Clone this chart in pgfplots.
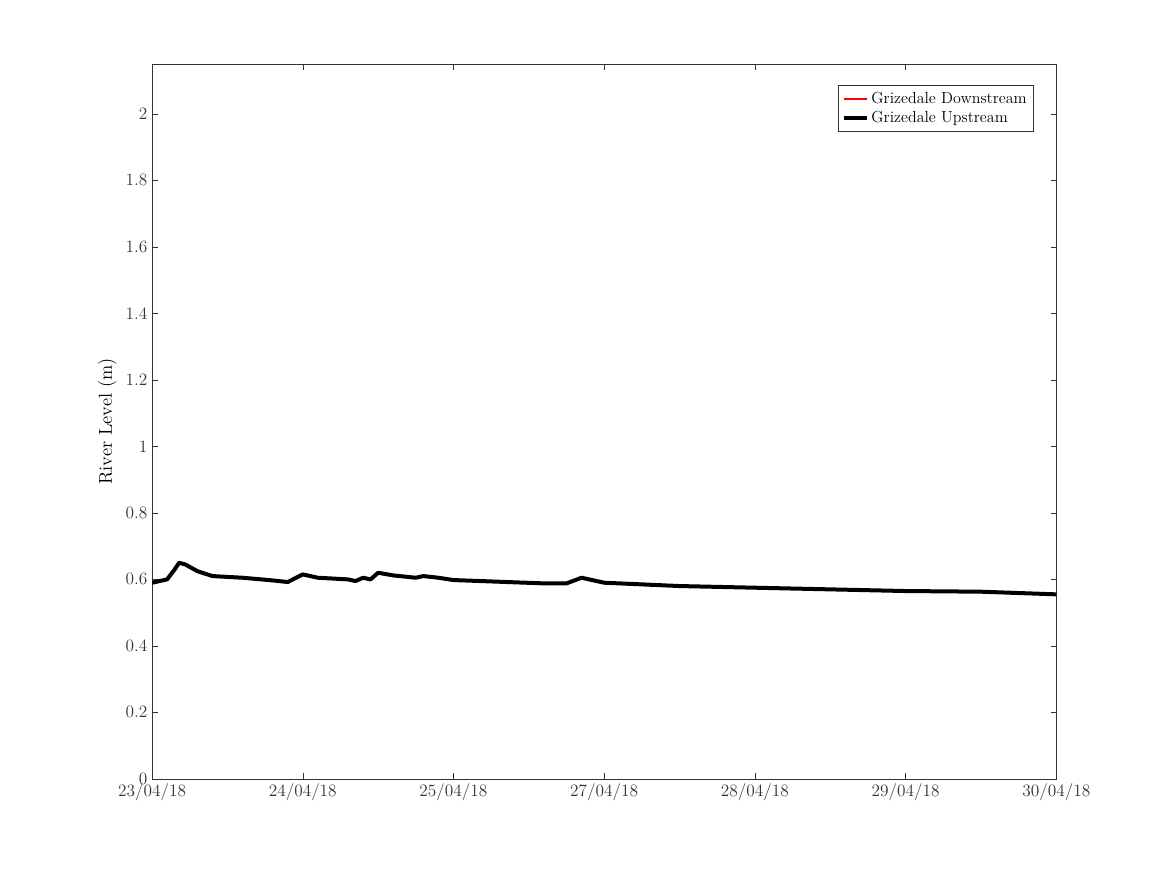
\documentclass[border=0pt]{standalone}
\usepackage{pgfplots}
\pgfplotsset{compat=1.18}
\begin{document}
\begin{tikzpicture}
\begin{axis}[scale only axis, width=678pt, height=536pt,
xmin=0, xmax=6, ymin=0, ymax=2.15,
xtick={0,1,2,3,4,5,6},
xticklabels={23/04/18,24/04/18,25/04/18,27/04/18,28/04/18,29/04/18,30/04/18},
ytick={0,0.2,0.4,0.6,0.8,1,1.2,1.4,1.6,1.8,2},
yticklabels={0,0.2,0.4,0.6,0.8,1,1.2,1.4,1.6,1.8,2},
tick style={color=black!80}, tick align=inside,
ticklabel style={font=\fontsize{13}{15}\selectfont, text=black!80},
ylabel={\fontsize{14}{16}\selectfont River Level (m)},
axis line style={black!80},
legend style={at={(rel axis cs:0.975,0.97)}, anchor=north east, font=\fontsize{12}{14}\selectfont, draw=black!80, cells={anchor=west}, inner sep=3pt},
legend cell align=left]
\addlegendimage{red, line width=2.2pt}
\addlegendentry{Grizedale Downstream}
\addplot[black, line width=3pt, line join=round] coordinates {
(0,0.59)(0.05,0.595)(0.1,0.60)(0.15,0.63)(0.18,0.65)(0.22,0.645)(0.3,0.625)(0.4,0.61)(0.6,0.605)(0.8,0.597)(0.9,0.592)(1.0,0.615)(1.1,0.605)(1.3,0.60)(1.35,0.595)(1.4,0.605)(1.45,0.60)(1.5,0.62)(1.6,0.612)(1.75,0.605)(1.8,0.61)(1.9,0.605)(2.0,0.598)(2.3,0.593)(2.6,0.588)(2.75,0.588)(2.85,0.605)(2.95,0.595)(3.0,0.59)(3.5,0.58)(4.0,0.575)(4.5,0.57)(5.0,0.565)(5.5,0.563)(6.0,0.555)};
\addlegendentry{Grizedale Upstream}
\end{axis}
\path (current axis.south west) ++(-114pt,-72pt) (current axis.north east) ++(83pt,48pt);
\end{tikzpicture}
\end{document}
